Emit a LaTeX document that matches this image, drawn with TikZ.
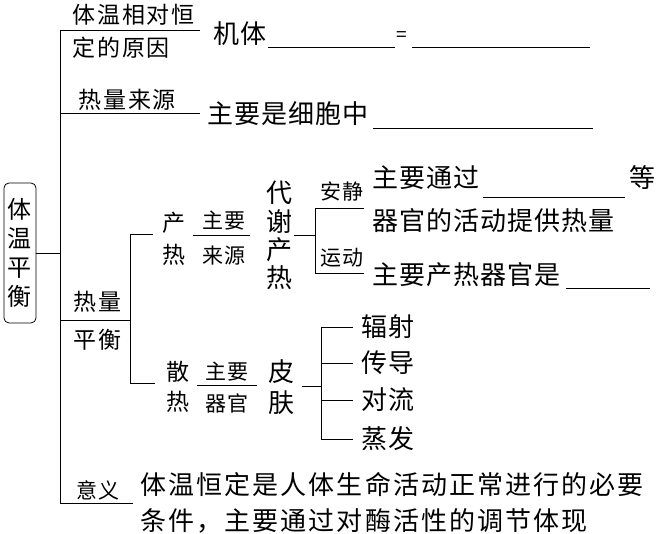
\documentclass[tikz,border=0pt]{standalone}
\usepackage{fontspec}
\setmainfont{Noto Sans CJK SC}
\begin{document}
\begin{tikzpicture}[x=1pt,y=-1pt,line width=0.8pt,
  big/.style={font=\fontsize{26}{30}\selectfont\addfontfeature{LetterSpace=4}, inner sep=0pt},
  wide/.style={font=\fontsize{26}{30}\selectfont\addfontfeature{LetterSpace=8}, inner sep=0pt},
  mid/.style={font=\fontsize{23}{27}\selectfont\addfontfeature{LetterSpace=8}, inner sep=0pt},
  sml/.style={font=\fontsize{21}{25}\selectfont\addfontfeature{LetterSpace=6}, inner sep=0pt},
  ln/.style={line width=0.8pt}]
\useasboundingbox (0,0) rectangle (656,534);
% root
\node[draw,rounded corners=5pt,minimum width=32pt,minimum height=140pt,inner sep=0pt,align=center,
  font=\fontsize{24}{29}\selectfont] (root) at (20,253) {体\\温\\平\\衡};
\coordinate (sT) at (60,30);
\coordinate (sR) at (60,253);
\coordinate (sB) at (60,503);
\draw[ln] (root.east |- sR) -- (sR);
\draw[ln] (sT) -- (sB);
% branch 1
\coordinate (b1) at (200,30);
\draw[ln] (sT) -- (b1);
\node[mid,anchor=west] (l1a) at (72,15) {体温相对恒};
\node[mid,anchor=west] (l1b) at (72,48) {定的原因};
\node[big,anchor=west] (jt) at (213,34) {机体};
\coordinate (u1a) at (268,47); \coordinate (u1b) at (395,47);
\draw[ln] (u1a) -- (u1b);
\node[font=\fontsize{19}{22}\selectfont,inner sep=0pt] (eq) at (402,37) {=};
\coordinate (u2a) at (412,47); \coordinate (u2b) at (590,47);
\draw[ln] (u2a) -- (u2b);
% branch 2
\coordinate (s2) at (60,113); \coordinate (b2) at (200,113);
\draw[ln] (s2) -- (b2);
\node[mid,anchor=west] (l2) at (78,100) {热量来源};
\node[big,anchor=west] (xb) at (207,114) {主要是细胞中};
\coordinate (u3a) at (373,128); \coordinate (u3b) at (593,128);
\draw[ln] (u3a) -- (u3b);
% branch 3
\coordinate (s3) at (60,320); \coordinate (v3) at (130,320);
\draw[ln] (s3) -- (v3);
\node[mid,anchor=west] (l3a) at (73,302) {热量};
\node[mid,anchor=west] (l3b) at (73,340) {平衡};
\coordinate (v3t) at (130,234); \coordinate (v3b) at (130,383);
\draw[ln] (v3t) -- (v3b);
\coordinate (h3t) at (153,234); \coordinate (h3b) at (155,383);
\draw[ln] (v3t) -- (h3t);
\draw[ln] (v3b) -- (h3b);
% production
\node[mid] (ch1) at (174,223) {产};
\node[mid] (ch2) at (174,255) {热};
\node[sml] (zy1) at (224,221) {主要};
\node[sml] (ly) at (224,256) {来源};
\coordinate (zl1a) at (193,235); \coordinate (zl1b) at (250,235);
\draw[ln] (zl1a) -- (zl1b);
\node[big] (dx1) at (279,193) {代};
\node[big] (dx2) at (279,222) {谢};
\node[big] (dx3) at (279,250) {产};
\node[big] (dx4) at (279,278) {热};
\coordinate (dxc) at (294,235); \coordinate (dv) at (315,235);
\draw[ln] (dxc) -- (dv);
\coordinate (dvt) at (315,208); \coordinate (dvb) at (315,273);
\draw[ln] (dvt) -- (dvb);
\coordinate (dht) at (364,208); \coordinate (dhb) at (364,273);
\draw[ln] (dvt) -- (dht);
\draw[ln] (dvb) -- (dhb);
\node[sml] (aj) at (342,192) {安静};
\node[sml] (yd) at (342,258) {运动};
\node[big,anchor=west] (zt) at (372,178) {主要通过};
\coordinate (u4a) at (483,197); \coordinate (u4b) at (625,197);
\draw[ln] (u4a) -- (u4b);
\node[big] (deng) at (642,178) {等};
\node[big,anchor=west] (qg) at (372,221) {器官的活动提供热量};
\node[big,anchor=west] (zc) at (372,275) {主要产热器官是};
\coordinate (u5a) at (566,288); \coordinate (u5b) at (650,288);
\draw[ln] (u5a) -- (u5b);
% dissipation
\node[mid] (sr1) at (178,372) {散};
\node[mid] (sr2) at (178,402) {热};
\node[sml] (zy2) at (227,372) {主要};
\node[sml] (qg2) at (227,403) {器官};
\coordinate (zl2a) at (197,385); \coordinate (zl2b) at (257,385);
\draw[ln] (zl2a) -- (zl2b);
\node[big] (pf1) at (281,372) {皮};
\node[big] (pf2) at (281,403) {肤};
\coordinate (pfc) at (302,386); \coordinate (pv) at (321,386);
\draw[ln] (pfc) -- (pv);
\coordinate (pvt) at (321,327); \coordinate (pvb) at (321,439);
\draw[ln] (pvt) -- (pvb);
\foreach \yy/\nm/\tx in {327/fs/辐射,363/cd/传导,400/dl/对流,439/zf/蒸发}{
  \coordinate (\nm a) at (321,\yy); \coordinate (\nm b) at (353,\yy);
  \draw[ln] (\nm a) -- (\nm b);
  \node[big,anchor=west] (\nm) at (361,\yy) {\tx};
}
% branch 4
\coordinate (b4) at (133,503);
\draw[ln] (sB) -- (b4);
\node[sml] (yy) at (98,490) {意义};
\node[wide,anchor=west] (m1) at (140,485) {体温恒定是人体生命活动正常进行的必要};
\node[wide,anchor=west] (m2) at (140,521) {条件，主要通过对酶活性的调节体现};
\end{tikzpicture}
\end{document}
